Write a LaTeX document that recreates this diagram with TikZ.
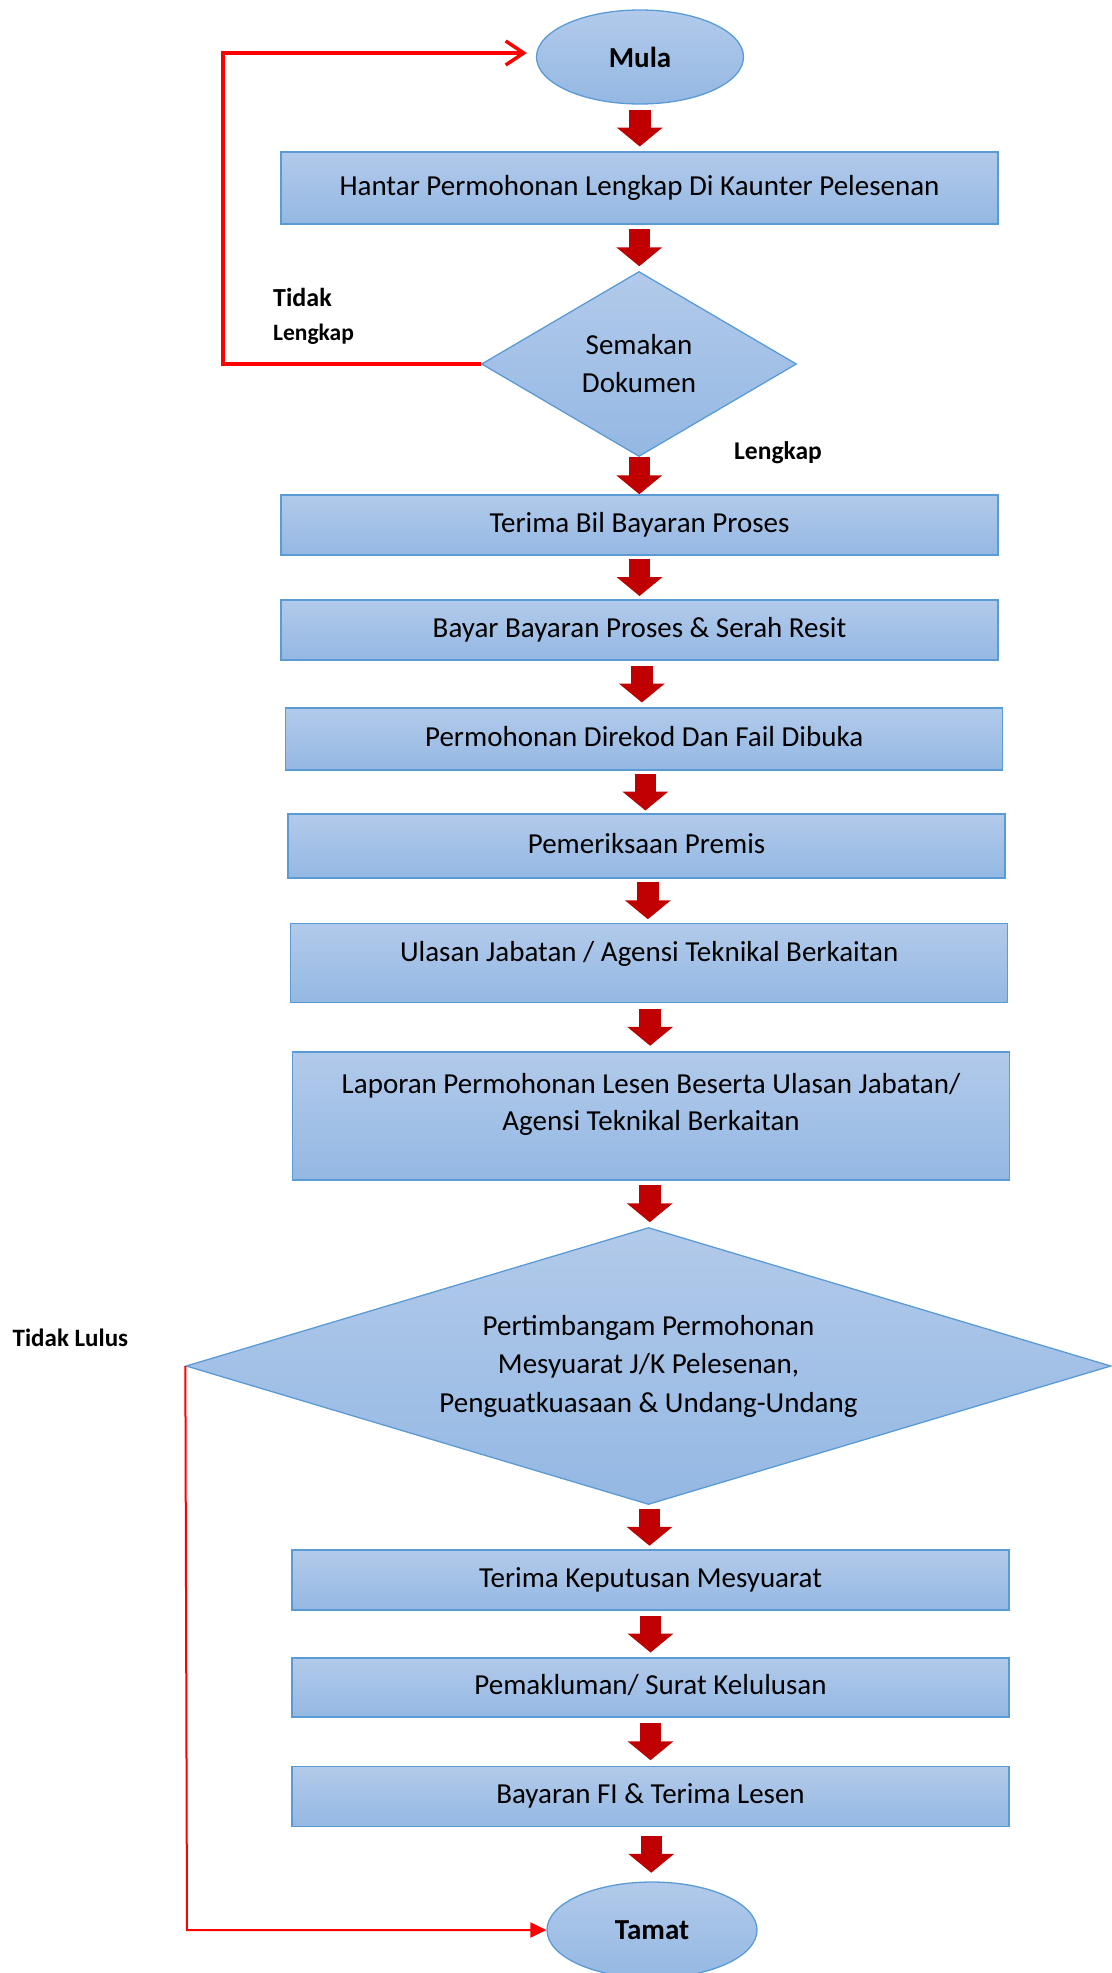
\documentclass[tikz,border=0pt]{standalone}
\usepackage{fontspec}
\setmainfont{Carlito}
\usetikzlibrary{shapes.geometric,arrows.meta,calc}
\definecolor{boxtop}{RGB}{178,202,234}
\definecolor{boxbot}{RGB}{148,184,227}
\definecolor{boxline}{RGB}{91,155,213}
\definecolor{arrred}{RGB}{192,0,0}
\definecolor{linered}{RGB}{255,0,0}
\newcommand\flowarrow[2]{\draw[flowarr] ($(#1.south)!0.5!(#2.north)+(0,-18.5)$) -- ($(#1.south)!0.5!(#2.north)+(0,18.5)$);}
\begin{document}
\begin{tikzpicture}[x=1pt,y=-1pt,
  fillstyle/.style={draw=boxline, line width=1.3pt, top color=boxtop, bottom color=boxbot, inner sep=0pt},
  boxshape/.style={fillstyle, rectangle, minimum width=717pt, font=\fontsize{29}{38}\selectfont, text height=20pt, text depth=6pt},
  termshape/.style={fillstyle, ellipse, font=\bfseries\fontsize{29}{36}\selectfont},
  decision/.style={fillstyle, diamond, align=center, font=\fontsize{29}{38}\selectfont},
  flowarr/.style={line width=21.5pt, draw=arrred, -{Triangle[length=19pt,width=45pt]}},
  redloop/.style={draw=linered, line width=3.5pt, -{Straight Barb[length=18pt,width=24pt]}},
  redend/.style={draw=linered, line width=2pt, -{Triangle[length=16pt,width=15pt]}},
  lbl/.style={anchor=west, inner sep=0pt}
]
\useasboundingbox (0,0) rectangle (1111,1973);

\node[termshape, minimum width=207pt, minimum height=94pt] (mula) at (640,57) {Mula};
\node[boxshape, minimum height=72pt] (b1) at (639.5,188) {Hantar Permohonan Lengkap Di Kaunter Pelesenan};
\node[decision, shape aspect=1.7, minimum width=315pt, minimum height=185pt] (d1) at (639,364) {Semakan\\Dokumen};
\node[boxshape, minimum height=60pt] (b2) at (639.5,525) {Terima Bil Bayaran Proses};
\node[boxshape, minimum height=60pt] (b3) at (639.5,630) {Bayar Bayaran Proses \& Serah Resit};
\node[boxshape, minimum height=62pt] (b4) at (644.2,739) {Permohonan Direkod Dan Fail Dibuka};
\node[boxshape, minimum height=64pt] (b5) at (646.5,846) {Pemeriksaan Premis};
\node[boxshape, minimum height=79pt, text depth=23pt] (b6) at (649.2,963) {Ulasan Jabatan / Agensi Teknikal Berkaitan};
\node[boxshape, minimum height=128pt] (b7) at (651,1116) {};
\node[align=center, inner sep=0pt, font=\fontsize{29}{36.5}\selectfont] (t7) at ([yshift=11.5pt]b7.center) {Laporan Permohonan Lesen Beserta Ulasan Jabatan/\\Agensi Teknikal Berkaitan};
\node[decision, shape aspect=3.34, minimum width=925pt, minimum height=277pt, font=\fontsize{29}{38.5}\selectfont] (d2) at (648.5,1366) {Pertimbangam Permohonan\\Mesyuarat J/K Pelesenan,\\Penguatkuasaan \& Undang-Undang};
\node[boxshape, minimum height=60pt] (b8) at (650.5,1580) {Terima Keputusan Mesyuarat};
\node[boxshape, minimum height=59pt] (b9) at (650.5,1687.5) {Pemakluman/ Surat Kelulusan};
\node[boxshape, minimum height=60pt] (b10) at (650.5,1796.5) {Bayaran FI \& Terima Lesen};
\node[termshape, minimum width=210pt, minimum height=96pt] (tamat) at (652,1930) {Tamat};

\flowarrow{mula}{b1}
\flowarrow{b1}{d1}
\flowarrow{d1}{b2}
\flowarrow{b2}{b3}
\flowarrow{b3}{b4}
\flowarrow{b4}{b5}
\flowarrow{b5}{b6}
\flowarrow{b6}{b7}
\flowarrow{b7}{d2}
\flowarrow{d2}{b8}
\flowarrow{b8}{b9}
\flowarrow{b9}{b10}
\flowarrow{b10}{tamat}

\coordinate (c1) at (223,364);
\draw[redloop, shorten >=9pt] (d1.west) -- (c1) |- ([yshift=4pt]mula.west);
\coordinate (c2) at (187,1930);
\draw[redend] (d2.west) -- (c2) -- (tamat.west);

\node[lbl, font=\bfseries\fontsize{26}{30}\selectfont] (ltidak) at (273,297) {Tidak};
\node[lbl, font=\bfseries\fontsize{23.5}{28}\selectfont] (llengkap) at (273,334) {Lengkap};
\node[lbl, font=\bfseries\fontsize{25.5}{30}\selectfont] (lok) at (734,453) {Lengkap};
\node[lbl, font=\bfseries\fontsize{25}{30}\selectfont] (llulus) at (12.5,1338) {Tidak Lulus};
\end{tikzpicture}
\end{document}
